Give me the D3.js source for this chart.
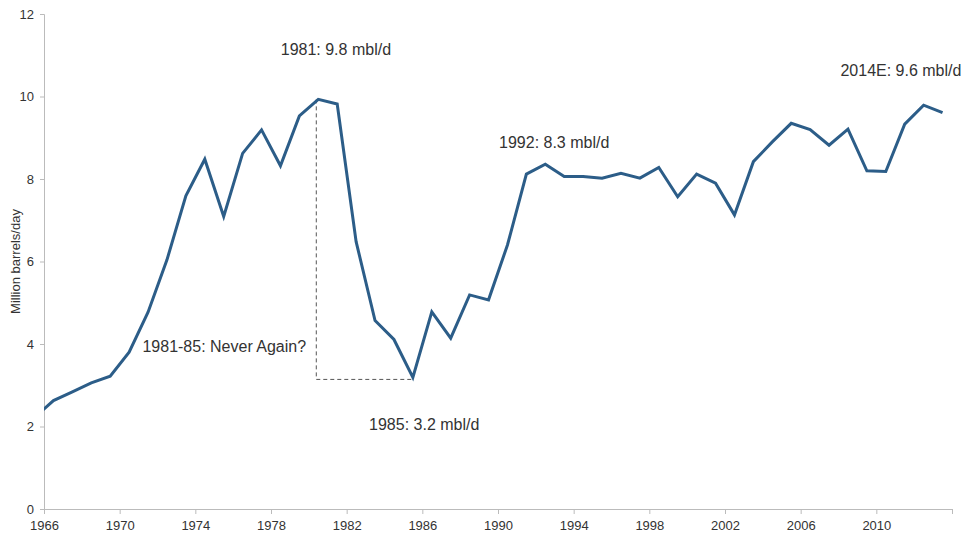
<!DOCTYPE html>
<html>
<head>
<meta charset="utf-8">
<script src="https://cdn.jsdelivr.net/npm/d3@7"></script>
<style>
  body { margin: 0; background: #fff; }
  text { font-family: "Liberation Sans", Arial, sans-serif; fill: #333; }
</style>
</head>
<body>
<svg id="chart" width="967" height="533"></svg>
<script>
const svg = d3.select("#chart"),
      width = +svg.attr("width"),
      height = +svg.attr("height");

// Saudi crude output, million barrels/day (1965 point sits left of the axis and is clipped)
const years = d3.range(1965, 2014);
const output = [2.22, 2.63, 2.84, 3.06, 3.22, 3.80, 4.77, 6.04, 7.59, 8.48,
                7.09, 8.62, 9.19, 8.32, 9.53, 9.93, 9.82, 6.48, 4.57, 4.11,
                3.19, 4.78, 4.14, 5.19, 5.07, 6.40, 8.12, 8.36, 8.06, 8.06,
                8.02, 8.14, 8.02, 8.28, 7.57, 8.12, 7.90, 7.13, 8.42, 8.90,
                9.35, 9.20, 8.82, 9.21, 8.20, 8.18, 9.33, 9.79, 9.61];
const xTicks = d3.range(1966, 2015, 4);
const yTicks = [0, 2, 4, 6, 8, 10, 12];

// annotation centres, in chart units
const notes = [
    {text: "1981: 9.8 mbl/d", year: 1981.43, value: 11.0},
    {text: "1981-85: Never Again?", year: 1975.53, value: 3.81},
    {text: "1985: 3.2 mbl/d", year: 1986.1, value: 1.92},
    {text: "1992: 8.3 mbl/d", year: 1992.97, value: 8.76},
    {text: "2014E: 9.6 mbl/d", year: 2011.3, value: 10.5}
];

const data = years.map((y, i) => ({year: y, value: output[i]}));

const xScale = d3.scaleLinear().domain([1966, 2014]).range([44, 952]);
const yScale = d3.scaleLinear().domain([0, 12]).range([509, 14]);

svg.append("defs").append("clipPath").attr("id", "plot")
   .append("rect").attr("x", 44).attr("y", 0).attr("width", 920).attr("height", 520);

// axes
const yAxis = svg.append("g")
   .attr("transform", `translate(${xScale(1966)},0)`)
   .call(d3.axisLeft(yScale).tickValues(yTicks).tickSize(4).tickPadding(6));

const xAxis = svg.append("g")
   .attr("transform", `translate(0,${yScale(0)})`)
   .call(d3.axisBottom(xScale).tickValues(xTicks).tickSize(5).tickPadding(7)
           .tickFormat(d => d === 2014 ? "" : d));

[yAxis, xAxis].forEach(g => {
    g.select(".domain").attr("stroke", "#bbb");
    g.selectAll(".tick line").attr("stroke", "#bbb");
    g.selectAll(".tick text").style("font-size", "13px").attr("fill", "#333");
});

svg.append("text")
   .attr("transform", `translate(20,${yScale(6)}) rotate(-90)`)
   .attr("text-anchor", "middle")
   .style("font-size", "13px")
   .text("Million barrels/day");

// dashed guide from the 1980 peak to the 1985 trough
const peak = data.find(d => d.year === 1980),
      trough = data.find(d => d.year === 1985);
svg.append("path")
   .attr("d", `M${xScale(peak.year + 0.5) - 2},${yScale(peak.value)}` +
              `V${yScale(trough.value) + 2}H${xScale(trough.year + 0.5)}`)
   .attr("fill", "none")
   .attr("stroke", "#555")
   .attr("stroke-width", 1)
   .attr("stroke-dasharray", "4,3");

const line = d3.line()
   .x(d => xScale(d.year + 0.5))
   .y(d => yScale(d.value));

svg.append("path")
   .datum(data)
   .attr("clip-path", "url(#plot)")
   .attr("d", line)
   .attr("fill", "none")
   .attr("stroke", "#2c5d88")
   .attr("stroke-width", 3)
   .attr("stroke-linejoin", "miter");

svg.selectAll(".note")
   .data(notes)
   .enter().append("text")
   .attr("class", "note")
   .attr("x", d => xScale(d.year))
   .attr("y", d => yScale(d.value))
   .attr("text-anchor", "middle")
   .style("font-size", "16px")
   .text(d => d.text);
</script>
</body>
</html>
